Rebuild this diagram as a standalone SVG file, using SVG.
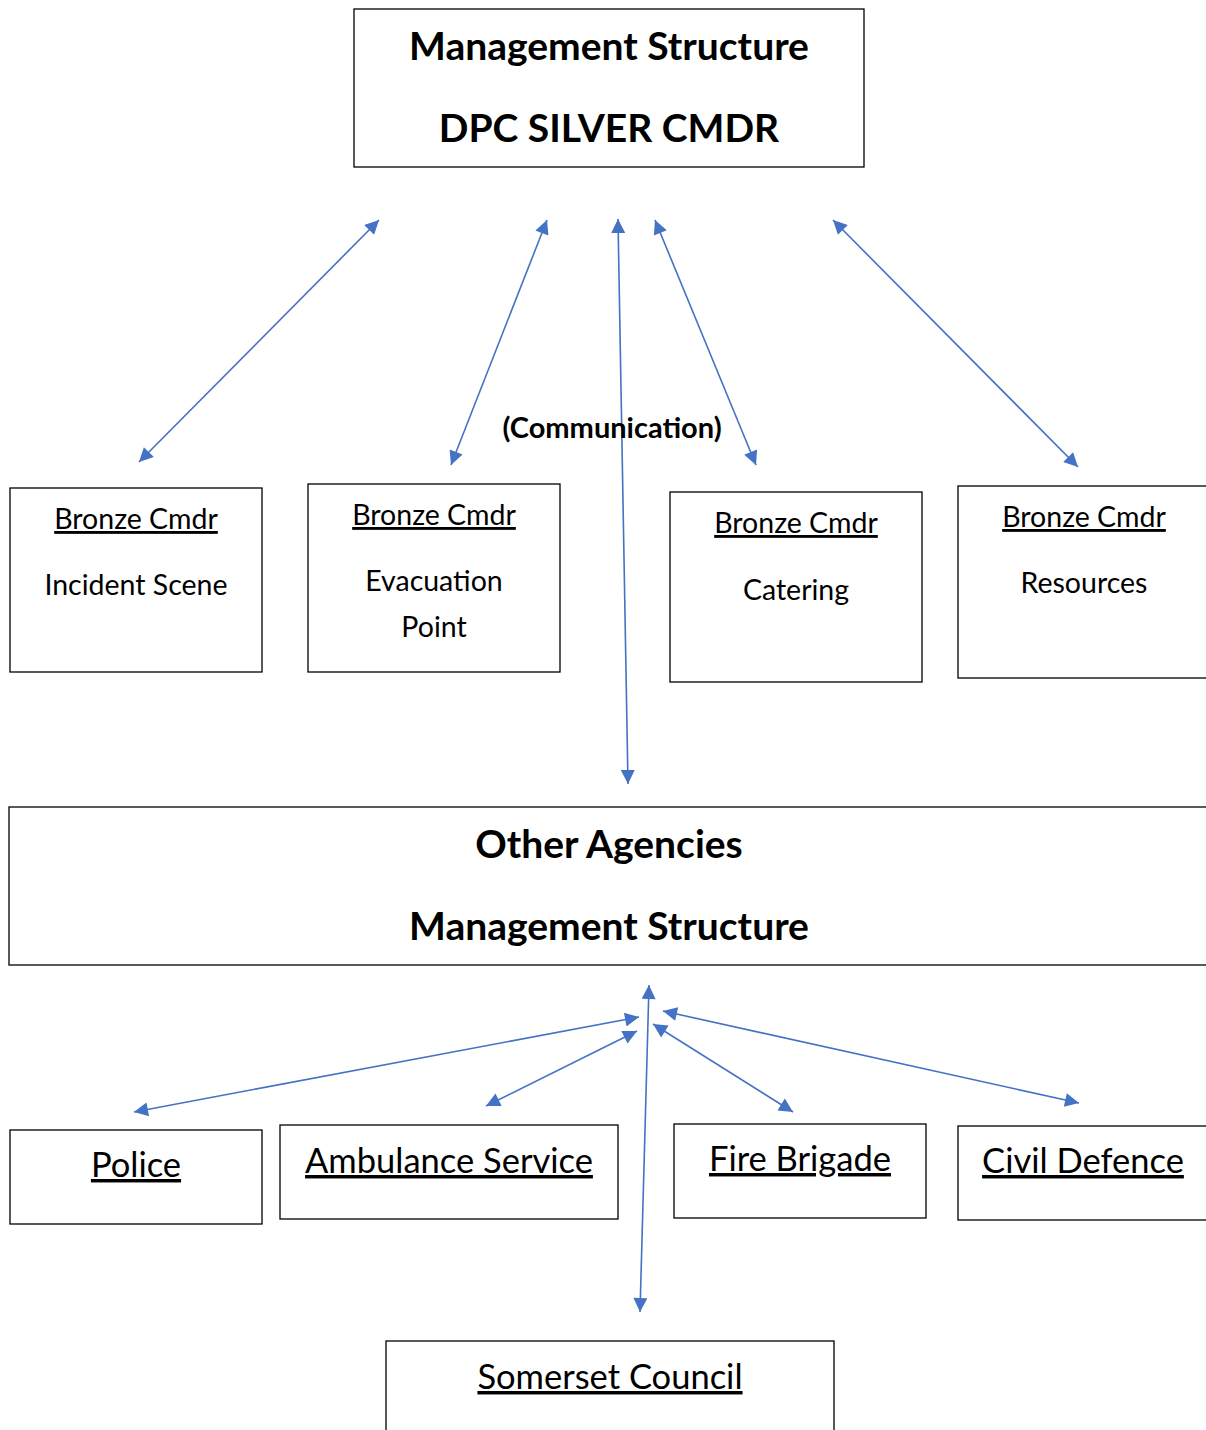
<svg xmlns="http://www.w3.org/2000/svg" width="1206" height="1430" viewBox="0 0 1206 1430">
<style>
.box{fill:#fff;stroke:#000;stroke-width:1.3}
.t{font-family:Lato,"Liberation Sans",sans-serif;fill:#000;text-anchor:middle}
.b{font-weight:bold}
.u{text-decoration:underline}
.h{font-size:39px}
.m{font-size:28.5px}
.l{font-size:34.5px}
.c{fill:none;stroke:#4472C4;stroke-width:1.6}
</style>
<defs>
<marker id="ah" viewBox="0 0 10 10" refX="10" refY="5" markerWidth="18" markerHeight="14" markerUnits="userSpaceOnUse" orient="auto-start-reverse">
<path d="M0,0 L10,5 L0,10 z" fill="#4472C4"/>
</marker>
</defs>
<rect width="1206" height="1430" fill="#fff"/>

<g id="silver">
<rect class="box" x="354" y="9" width="510" height="158"/>
<text class="t b h" x="609" y="60">Management Structure</text>
<text class="t b h" x="609" y="142">DPC SILVER CMDR</text>
</g>

<g id="connectors">
<path class="c" d="M139,462 L379,220" marker-start="url(#ah)" marker-end="url(#ah)"/>
<path class="c" d="M451,465 L547,220" marker-start="url(#ah)" marker-end="url(#ah)"/>
<path class="c" d="M618,219 L628,784" marker-start="url(#ah)" marker-end="url(#ah)"/>
<path class="c" d="M655,220 L756,465" marker-start="url(#ah)" marker-end="url(#ah)"/>
<path class="c" d="M833,220 L1078,467" marker-start="url(#ah)" marker-end="url(#ah)"/>
<path class="c" d="M134,1112 L639,1017" marker-start="url(#ah)" marker-end="url(#ah)"/>
<path class="c" d="M486,1106 L637,1031" marker-start="url(#ah)" marker-end="url(#ah)"/>
<path class="c" d="M649,985 L640,1312" marker-start="url(#ah)" marker-end="url(#ah)"/>
<path class="c" d="M653,1024 L793,1112" marker-start="url(#ah)" marker-end="url(#ah)"/>
<path class="c" d="M663,1011 L1079,1103" marker-start="url(#ah)" marker-end="url(#ah)"/>
</g>

<g id="communication-label">
<text class="t b" x="612" y="438" font-size="29">(Communication)</text>
</g>

<g id="bronze-incident">
<rect class="box" x="10" y="488" width="252" height="184"/>
<text class="t u m" x="136" y="529">Bronze Cmdr</text>
<text class="t m" x="136" y="595">Incident Scene</text>
</g>

<g id="bronze-evacuation">
<rect class="box" x="308" y="484" width="252" height="188"/>
<text class="t u m" x="434" y="525">Bronze Cmdr</text>
<text class="t m" x="434" y="591">Evacuation</text>
<text class="t m" x="434" y="637">Point</text>
</g>

<g id="bronze-catering">
<rect class="box" x="670" y="492" width="252" height="190"/>
<text class="t u m" x="796" y="533">Bronze Cmdr</text>
<text class="t m" x="796" y="600">Catering</text>
</g>

<g id="bronze-resources">
<rect class="box" x="958" y="486" width="260" height="192"/>
<text class="t u m" x="1084" y="527">Bronze Cmdr</text>
<text class="t m" x="1084" y="593">Resources</text>
</g>

<g id="other-agencies">
<rect class="box" x="9" y="807" width="1210" height="158"/>
<text class="t b h" x="609" y="858">Other Agencies</text>
<text class="t b h" x="609" y="940">Management Structure</text>
</g>

<g id="police">
<rect class="box" x="10" y="1130" width="252" height="94"/>
<text class="t u l" x="136" y="1177">Police</text>
</g>

<g id="ambulance">
<rect class="box" x="280" y="1125" width="338" height="94"/>
<text class="t u l" x="449" y="1173">Ambulance Service</text>
</g>

<g id="fire-brigade">
<rect class="box" x="674" y="1124" width="252" height="94"/>
<text class="t u l" x="800" y="1171">Fire Brigade</text>
</g>

<g id="civil-defence">
<rect class="box" x="958" y="1126" width="260" height="94"/>
<text class="t u l" x="1083" y="1173">Civil Defence</text>
</g>

<g id="somerset-council">
<rect class="box" x="386" y="1341" width="448" height="100"/>
<text class="t u l" x="610" y="1389">Somerset Council</text>
</g>
</svg>
